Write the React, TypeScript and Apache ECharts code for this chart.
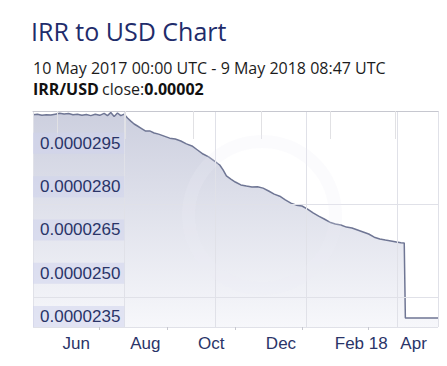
import React, { useEffect, useRef } from 'react';
import * as echarts from 'echarts';

const startDate = '2017-05-10T00:00:00Z';
const endDate = '2018-05-09T08:47:00Z';

const dates = [
  '2017-05-10', '2017-05-14', '2017-05-18', '2017-05-22', '2017-05-26', '2017-05-30',
  '2017-06-03', '2017-06-07', '2017-06-11', '2017-06-15', '2017-06-19', '2017-06-23',
  '2017-06-27', '2017-07-01', '2017-07-05', '2017-07-09', '2017-07-13', '2017-07-16',
  '2017-07-19', '2017-07-22', '2017-07-25', '2017-07-28', '2017-07-31', '2017-08-03',
  '2017-08-06', '2017-08-09', '2017-08-12', '2017-08-15', '2017-08-19', '2017-08-23',
  '2017-08-27', '2017-08-31', '2017-09-05', '2017-09-10', '2017-09-15', '2017-09-20',
  '2017-09-25', '2017-09-30', '2017-10-05', '2017-10-10', '2017-10-15', '2017-10-20',
  '2017-10-25', '2017-10-28', '2017-10-31', '2017-11-04', '2017-11-08', '2017-11-13',
  '2017-11-18', '2017-11-23', '2017-11-28', '2017-12-03', '2017-12-08', '2017-12-13',
  '2017-12-18', '2017-12-23', '2017-12-28', '2018-01-02', '2018-01-07', '2018-01-12',
  '2018-01-17', '2018-01-22', '2018-01-27', '2018-02-01', '2018-02-06', '2018-02-11',
  '2018-02-16', '2018-02-21', '2018-02-26', '2018-03-03', '2018-03-08', '2018-03-13',
  '2018-03-18', '2018-03-23', '2018-03-28', '2018-04-02', '2018-04-06', '2018-04-09',
  '2018-04-10', '2018-05-09T08:47:00Z'
];

const closeValues = [
  0.00003049, 0.00003051, 0.00003047, 0.00003049, 0.00003048, 0.00003051,
  0.00003054, 0.00003052, 0.00003053, 0.00003049, 0.00003051, 0.00003047,
  0.00003050, 0.00003046, 0.00003051, 0.00003047, 0.00003054, 0.00003046,
  0.00003057, 0.00003043, 0.00003055, 0.00003046, 0.00003051, 0.00003038,
  0.00003027, 0.00003017, 0.00003010, 0.00003003, 0.00002993, 0.00002993,
  0.00002986, 0.00002982, 0.00002975, 0.00002968, 0.00002965, 0.00002958,
  0.00002948, 0.00002941, 0.00002927, 0.00002913, 0.00002903, 0.00002889,
  0.00002875, 0.00002858, 0.00002837, 0.00002826, 0.00002816, 0.00002806,
  0.00002802, 0.00002799, 0.00002800, 0.00002795, 0.00002785, 0.00002774,
  0.00002767, 0.00002754, 0.00002743, 0.00002736, 0.00002733, 0.00002722,
  0.00002709, 0.00002698, 0.00002688, 0.00002677, 0.00002671, 0.00002667,
  0.00002660, 0.00002657, 0.00002650, 0.00002643, 0.00002636, 0.00002625,
  0.00002619, 0.00002615, 0.00002612, 0.00002608, 0.00002606, 0.00002605,
  0.00002345, 0.00002345
];

const yMin = 0.00002314;
const yMax = 0.00003062;
const yTickValues = [0.0000235, 0.000025, 0.0000265, 0.000028, 0.0000295];

const monthTickDates = ['2017-06-01', '2017-08-01', '2017-10-01', '2017-12-01', '2018-02-01', '2018-04-01'];
const monthTickLabels = ['Jun', 'Aug', 'Oct', 'Dec', 'Feb 18', 'Apr'];
const minorTickDates = ['2017-07-09', '2017-09-08', '2017-11-08', '2018-01-07', '2018-03-08'];

export default function App() {
  const ref = useRef<HTMLDivElement>(null);

  useEffect(() => {
    if (!ref.current) return;
    const chart = echarts.init(ref.current, null, { renderer: 'svg' });
    const tMin = Date.parse(startDate);
    const tMax = Date.parse(endDate);
    const monthTicks = monthTickDates.map((d) => Date.parse(d));
    const minorTicks = minorTickDates.map((d) => Date.parse(d));
    const seriesData = dates.map((d, i) => [Date.parse(d), closeValues[i]]);

    const navy = '#2a3468';
    const gridColor = '#e0e1e8';

    chart.setOption({
      animation: false,
      backgroundColor: '#ffffff',
      grid: { left: 33, right: 9, top: 111, bottom: 39, containLabel: false },
      xAxis: [
        {
          type: 'value',
          min: tMin,
          max: tMax,
          z: 4,
          axisLine: { show: true, lineStyle: { color: '#c6c7cf', width: 1 } },
          axisTick: {
            show: true,
            customValues: monthTicks,
            length: 28,
            lineStyle: { color: '#e1e1e4', width: 1 },
          },
          axisLabel: {
            show: true,
            customValues: monthTicks,
            formatter: (v: number) => {
              const i = monthTicks.indexOf(v);
              return i >= 0 ? monthTickLabels[i] : '';
            },
            align: 'left',
            padding: [0, 0, 0, 5],
            margin: 8,
            color: navy,
            fontSize: 17,
            fontFamily: '"Liberation Sans", Arial, sans-serif',
          },
          splitLine: { show: false },
        },
        {
          type: 'value',
          min: 0,
          max: 405,
          interval: 91,
          z: 3,
          axisLine: { show: false },
          axisTick: { show: false },
          axisLabel: { show: false },
          splitLine: { show: true, lineStyle: { color: gridColor, width: 1 } },
        },
        {
          type: 'value',
          min: tMin,
          max: tMax,
          z: 4,
          position: 'bottom',
          axisLine: { show: false },
          axisTick: {
            show: true,
            customValues: minorTicks,
            length: 3,
            lineStyle: { color: '#c6c7cf', width: 1 },
          },
          axisLabel: { show: false },
          splitLine: { show: false },
        },
      ],
      yAxis: [
        {
          type: 'value',
          min: yMin,
          max: yMax,
          z: 10,
          axisLine: { show: false },
          axisTick: { show: false },
          splitLine: { show: false },
          axisLabel: {
            show: true,
            inside: true,
            customValues: yTickValues,
            formatter: (v: number) => v.toFixed(7),
            margin: 0,
            color: navy,
            fontSize: 17,
            fontFamily: '"Liberation Sans", Arial, sans-serif',
            backgroundColor: 'rgba(208,212,236,0.55)',
            padding: [2, 4, 2, 7],
          },
        },
        {
          type: 'value',
          min: 0,
          max: 216,
          interval: 93,
          inverse: true,
          z: 3,
          axisLine: { show: false },
          axisTick: { show: false },
          axisLabel: { show: false },
          splitLine: { show: true, lineStyle: { color: gridColor, width: 1 } },
        },
      ],
      series: [
        {
          type: 'line',
          xAxisIndex: 0,
          yAxisIndex: 0,
          data: seriesData,
          showSymbol: false,
          symbol: 'none',
          z: 2,
          lineStyle: { color: '#6f7694', width: 1.5 },
          areaStyle: {
            origin: 'start',
            color: new echarts.graphic.LinearGradient(0, 0, 0, 1, [
              { offset: 0, color: '#b7bbd1' },
              { offset: 1, color: '#f3f4f9' },
            ]),
          },
        },
      ],
      graphic: [
        {
          type: 'ring',
          z: 5,
          silent: true,
          shape: { cx: 262, cy: 215, r: 80, r0: 67 },
          style: { fill: 'rgba(236,237,245,0.22)' },
        },
        {
          type: 'text',
          x: 31,
          y: 31,
          style: {
            text: 'IRR to USD Chart',
            fontSize: 25,
            fontFamily: '"Open Sans", sans-serif',
            fill: '#1f2c6b',
            verticalAlign: 'middle',
            align: 'left',
          },
        },
        {
          type: 'text',
          x: 33,
          y: 67.5,
          style: {
            text: '10 May 2017 00:00 UTC - 9 May 2018 08:47 UTC',
            fontSize: 16,
            fontFamily: '"Open Sans", sans-serif',
            fill: '#1c1c1c',
            verticalAlign: 'middle',
            align: 'left',
          },
        },
        {
          type: 'text',
          x: 33,
          y: 88.5,
          style: {
            text: '{b|IRR/USD} {n|close:}{b|0.00002}',
            verticalAlign: 'middle',
            align: 'left',
            rich: {
              b: { fontSize: 16, fontWeight: 'bold', fontFamily: '"Open Sans", sans-serif', fill: '#111111' },
              n: { fontSize: 16, fontFamily: '"Open Sans", sans-serif', fill: '#1c1c1c' },
            },
          },
        },
      ],
    });

    return () => chart.dispose();
  }, []);

  return (
    <div
      ref={ref}
      style={{ position: 'absolute', left: 0, top: 0, width: 447, height: 366 }}
    />
  );
}
